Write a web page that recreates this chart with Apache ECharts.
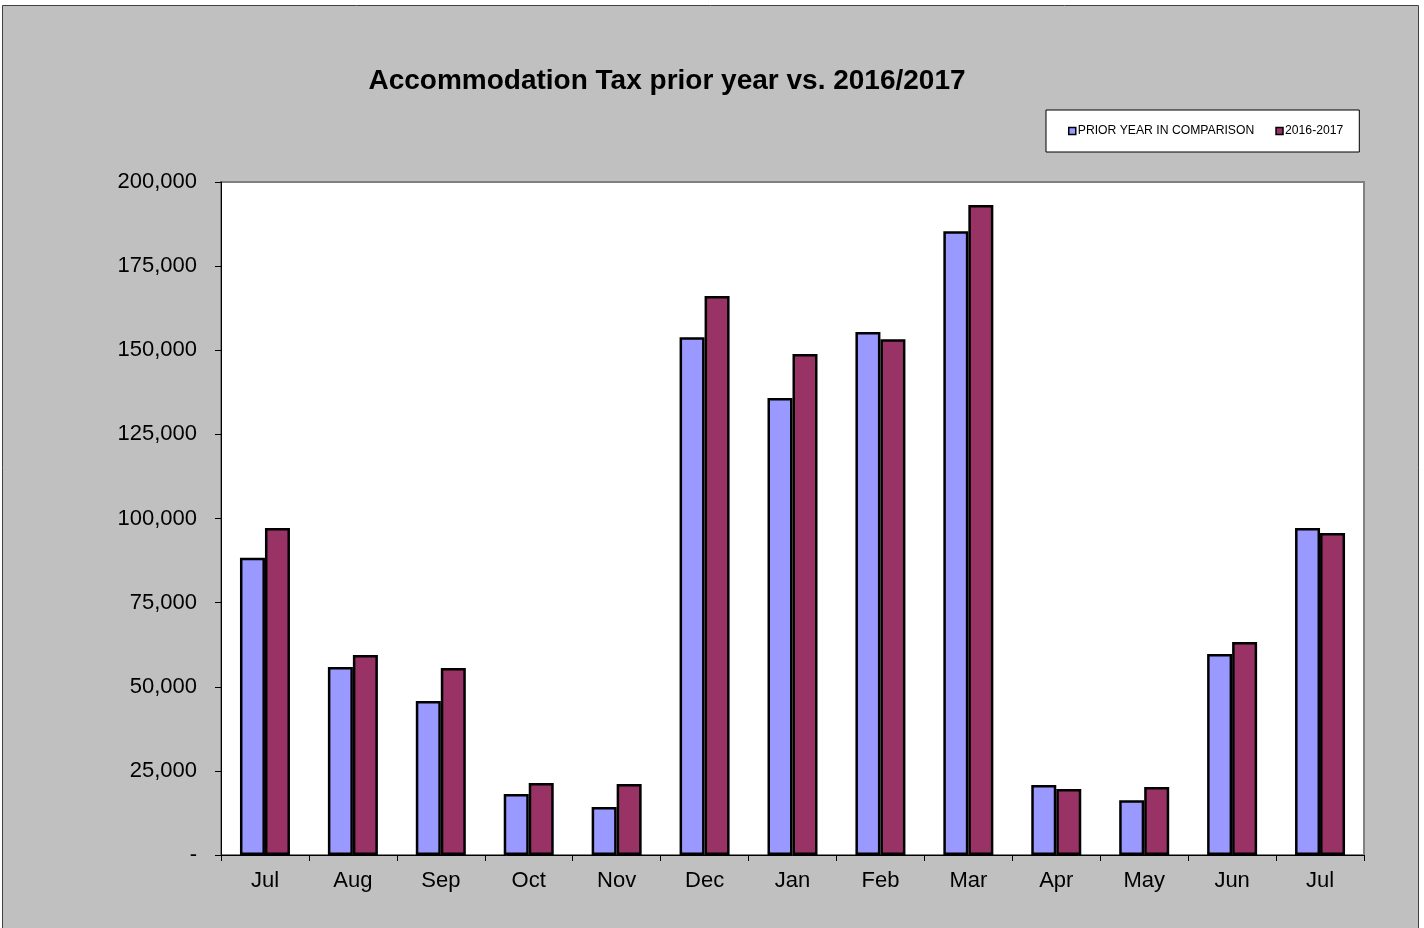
<!DOCTYPE html>
<html>
<head>
<meta charset="utf-8">
<script src="https://cdn.jsdelivr.net/npm/echarts@6/dist/echarts.min.js"></script>
<style>
  html, body { margin: 0; padding: 0; background: #fff; }
  #chart { width: 1424px; height: 928px; }
</style>
</head>
<body>
<div id="chart"></div>
<script>
// months of the fiscal year, Jul through Jul
const months = ['Jul', 'Aug', 'Sep', 'Oct', 'Nov', 'Dec', 'Jan', 'Feb', 'Mar', 'Apr', 'May', 'Jun', 'Jul'];
const priorYear = [88300, 55900, 45800, 18100, 14300, 153900, 135800, 155400, 185400, 20800, 16300, 59700, 97200];
const current = [97200, 59400, 55600, 21400, 21100, 166100, 148900, 153300, 193200, 19600, 20200, 63300, 95700];
const seriesNames = ['PRIOR YEAR IN COMPARISON', '2016-2017'];
const yTicks = [0, 25000, 50000, 75000, 100000, 125000, 150000, 175000, 200000];

const font = 'Arial, "Liberation Sans", sans-serif';

const chart = echarts.init(document.getElementById('chart'));

const option = {
  backgroundColor: '#fff',
  animation: false,
  graphic: [
    {
      type: 'rect',
      z: -10,
      shape: { x: 2.5, y: 5.5, width: 1416, height: 930 },
      style: { fill: '#C0C0C0', stroke: '#404040', lineWidth: 1 }
    }
  ],
  title: {
    text: 'Accommodation Tax prior year vs. 2016/2017',
    left: 662,
    top: 62,
    textAlign: 'center',
    textStyle: { fontFamily: font, fontSize: 28, fontWeight: 'bold', color: '#000' }
  },
  legend: {
    left: 1046,
    top: 110,
    orient: 'horizontal',
    backgroundColor: '#fff',
    borderColor: '#000',
    borderWidth: 1,
    padding: [15, 16, 15, 22],
    itemGap: 21,
    itemWidth: 7,
    itemHeight: 7,
    icon: 'rect',
    data: seriesNames,
    itemStyle: { borderColor: '#000', borderWidth: 1.5 },
    textStyle: { fontFamily: font, fontSize: 12.2, color: '#000', padding: [0, 0, 0, -3] }
  },
  grid: {
    left: 221,
    top: 182,
    right: 60,
    bottom: 73,
    show: true,
    backgroundColor: '#fff',
    borderColor: '#808080',
    borderWidth: 2
  },
  xAxis: {
    type: 'category',
    data: months,
    axisLine: { lineStyle: { color: '#000', width: 1 } },
    axisTick: { show: true, length: 6, lineStyle: { color: '#000' } },
    axisLabel: { fontFamily: font, fontSize: 22, color: '#000', margin: 15 }
  },
  yAxis: {
    type: 'value',
    min: 0,
    max: 200000,
    interval: 25000,
    axisLine: { show: true, lineStyle: { color: '#000', width: 1 } },
    axisTick: { show: true, length: 6, lineStyle: { color: '#000' } },
    splitLine: { show: false },
    axisLabel: {
      fontFamily: font,
      fontSize: 22,
      color: '#000',
      margin: 24,
      customValues: yTicks,
      formatter: v => v === 0 ? '-' : v.toLocaleString('en-US')
    }
  },
  series: [
    {
      name: seriesNames[0],
      type: 'bar',
      data: priorYear,
      barWidth: 25,
      barGap: '0%',
      itemStyle: { color: '#9999FF', borderColor: '#000', borderWidth: 2.5 }
    },
    {
      name: seriesNames[1],
      type: 'bar',
      data: current,
      barWidth: 25,
      barGap: '0%',
      itemStyle: { color: '#993366', borderColor: '#000', borderWidth: 2.5 }
    }
  ]
};

chart.setOption(option);
</script>
</body>
</html>
